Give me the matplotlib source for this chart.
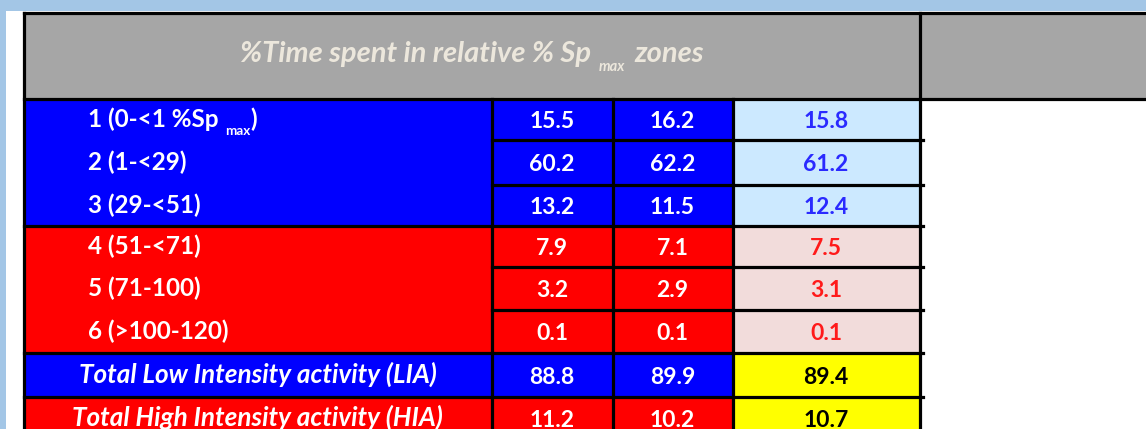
import re
import matplotlib.pyplot as plt
from matplotlib.patches import Rectangle

# ---- data ----
header_title = "%Time spent in relative % Sp _{max} zones"
row_labels = [
    "1 (0-<1 %Sp _{max})",
    "2 (1-<29)",
    "3 (29-<51)",
    "4 (51-<71)",
    "5 (71-100)",
    "6 (>100-120)",
    "Total Low Intensity activity (LIA)",
    "Total High Intensity activity (HIA)",
]
row_groups = ["low", "low", "low", "high", "high", "high", "lia", "hia"]
col_a = [15.5, 60.2, 13.2, 7.9, 3.2, 0.1, 88.8, 11.2]
col_b = [16.2, 62.2, 11.5, 7.1, 2.9, 0.1, 89.9, 10.2]
col_c = [15.8, 61.2, 12.4, 7.5, 3.1, 0.1, 89.4, 10.7]

# ---- layout (pixels) ----
W, H = 1146, 429
FONT = "Lato"
BLUE, RED = "#0000ff", "#ff0000"
LIGHT_BLUE, PINK, YELLOW = "#cce9ff", "#f2dcdb", "#ffff00"
GRAY = "#a6a6a6"
LW = 3.2 * 72 / 100  # line width in points

x_left, x_lab, x_a, x_b, x_c, x_end = 23.5, 492, 612.5, 732.5, 919.5, W
y_top, y_head = 12.5, 98.5
row_edges = [98.5, 139.5, 184.5, 225.5, 266.5, 310, 352.5, 396.5, 440]

styles = {
    "low": (BLUE, LIGHT_BLUE, "#2a2aff"),
    "high": (RED, PINK, "#ff1a1a"),
    "lia": (BLUE, YELLOW, "black"),
    "hia": (RED, YELLOW, "black"),
}

fig = plt.figure(figsize=(W / 100, H / 100), dpi=100)
fig.patch.set_facecolor("#a3c6e6")
ax = fig.add_axes([0, 0, 1, 1])
ax.set_xlim(0, W)
ax.set_ylim(H, 0)
ax.axis("off")
renderer = fig.canvas.get_renderer()


def rect(x0, y0, x1, y1, color):
    ax.add_patch(Rectangle((x0, y0), x1 - x0, y1 - y0, facecolor=color,
                           edgecolor="none", zorder=1))


def line(xs, ys):
    ax.plot(xs, ys, color="black", lw=LW, solid_capstyle="projecting", zorder=3)


def draw_runs(x, y, text, size, color, style="normal", ha="left", sub_scale=0.55):
    """text with _{sub} parts, drawn as separate runs on a common baseline"""
    parts = [p for p in re.split(r"(_\{[^}]*\})", text) if p]
    objs, seps = [], []
    for k, p in enumerate(parts):
        sub = p.startswith("_{")
        s = p[2:-1] if sub else p
        t = ax.text(0, y + (size * 0.45 if sub else 0), s.strip(),
                    fontsize=size * sub_scale if sub else size, color=color,
                    fontfamily=FONT, fontweight="bold", fontstyle=style,
                    va="baseline", ha="left", zorder=4)
        objs.append(t)
        if k > 0:
            seps.append(size * 0.4 if (parts[k - 1].endswith(" ") or s.startswith(" ")) else 0)
    seps.append(0)
    widths = [t.get_window_extent(renderer).width for t in objs]
    total = sum(widths) + sum(seps)
    cx = x - total / 2 if ha == "center" else x
    for t, w, g in zip(objs, widths, seps):
        t.set_x(cx)
        cx += w + g


# background panels
rect(6, 11, W, H, "white")
rect(x_left, y_top, x_end, y_head, GRAY)

for i, grp in enumerate(row_groups):
    y0, y1 = row_edges[i], row_edges[i + 1]
    bg, cbg, ctext = styles[grp]
    rect(x_left, y0, x_c, y1, bg)
    rect(x_b, y0, x_c, y1, cbg)
    yb = (y0 + y1) / 2 + 8
    if grp in ("lia", "hia"):
        draw_runs((x_left + x_lab) / 2, yb, row_labels[i], 18.8, "white",
                  style="italic", ha="center")
    else:
        draw_runs(88, yb, row_labels[i], 17.5, "white")
    for xc, v, col in [((x_lab + x_a) / 2, col_a[i], "white"),
                       ((x_a + x_b) / 2, col_b[i], "white"),
                       ((x_b + x_c) / 2, col_c[i], ctext)]:
        ax.text(xc, yb + 1, f"{v:.1f}", fontsize=16.5, color=col,
                fontfamily=FONT, fontweight="bold", ha="center",
                va="baseline", zorder=4)

draw_runs((x_left + x_c) / 2, 62, header_title, 21, "#ece7dc",
          style="italic", ha="center", sub_scale=0.5)

# grid lines
line([x_left, x_end], [y_top, y_top])
line([x_left, x_end], [y_head, y_head])
line([x_left, x_left], [y_top, H + 5])
line([x_c, x_c], [y_top, H + 5])
for xv in (x_lab, x_a, x_b):
    line([xv, xv], [y_head, H + 5])
for i, y in enumerate(row_edges[1:-1], start=1):
    if row_groups[i] != row_groups[i - 1]:
        line([x_left, x_c + 3], [y, y])
    else:
        line([x_lab, x_c + 3], [y, y])

fig.savefig("out.png", dpi=100, facecolor=fig.get_facecolor())
